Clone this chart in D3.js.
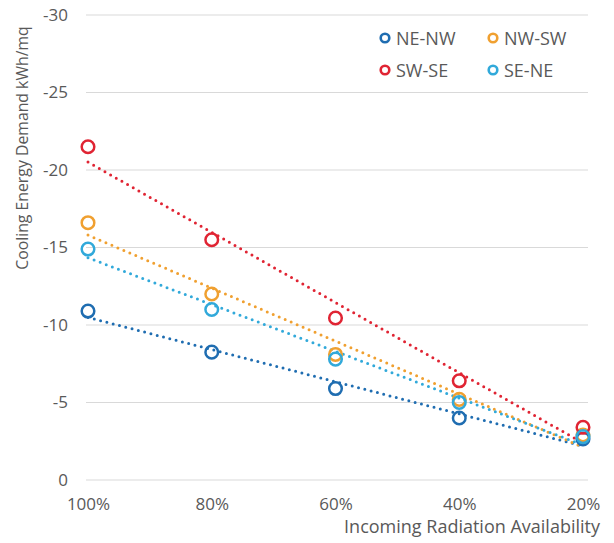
<!DOCTYPE html>
<html><head><meta charset="utf-8">
<script src="https://cdn.jsdelivr.net/npm/d3@7"></script>
<style>
body{margin:0;background:#fff;}
text{font-family:"Open Sans","Noto Sans",sans-serif;fill:#595959;}
</style></head>
<body><svg id="c" width="614" height="543"></svg>
<script>
const categories = ["100%","80%","60%","40%","20%"];
const seriesNames = ["NE-NW","NW-SW","SW-SE","SE-NE"];
const neNw = [-10.9,-8.25,-5.9,-4.0,-2.65];
const nwSw = [-16.6,-12.0,-8.1,-5.2,-2.9];
const swSe = [-21.5,-15.5,-10.45,-6.4,-3.4];
const seNe = [-14.9,-11.0,-7.8,-5.0,-2.8];
const yTicks = [0,-5,-10,-15,-20,-25,-30];
const colors = ["#1F6DB1","#F0A030","#E02433","#31A9DA"];

const series = [neNw,nwSw,swSe,seNe].map((v,i)=>({name:seriesNames[i],values:v,color:colors[i]}));

const svg = d3.select("#c");
const x = d3.scalePoint().domain(categories).range([88,583]);
const y = d3.scaleLinear().domain([0,-30]).range([480,15]);
const FONT = "Open Sans, Noto Sans, sans-serif";

// gridlines
svg.append("g").selectAll("line").data(yTicks).join("line")
  .attr("x1",86).attr("x2",588).attr("y1",d=>y(d)).attr("y2",d=>y(d))
  .attr("stroke","#d9d9d9").attr("stroke-width",1.2);

// y axis labels
const ya = svg.append("g").attr("transform","translate(86,0)")
  .call(d3.axisLeft(y).tickValues(yTicks).tickSize(0).tickPadding(18).tickFormat(d=>String(d)));
ya.select(".domain").remove();
ya.selectAll("text").attr("font-size",17).attr("font-family",FONT).attr("fill","#595959");

// x axis labels
const xa = svg.append("g").attr("transform","translate(0,494)")
  .call(d3.axisBottom(x).tickSize(0).tickPadding(4));
xa.select(".domain").remove();
xa.selectAll("text").attr("font-size",17).attr("font-family",FONT).attr("fill","#595959");

// trendlines (least squares on index)
series.forEach(s=>{
  const n = s.values.length;
  const xs = d3.range(n);
  const mx = d3.mean(xs), my = d3.mean(s.values);
  const sxy = d3.sum(xs,(xi,i)=>(xi-mx)*(s.values[i]-my));
  const sxx = d3.sum(xs,xi=>(xi-mx)*(xi-mx));
  const b = sxy/sxx, a = my - b*mx;
  const xs2 = d3.scaleLinear().domain([0,n-1]).range([x(categories[0]),x(categories[n-1])]);
  svg.append("line")
    .attr("x1",xs2(0)).attr("y1",y(a))
    .attr("x2",xs2(n-1)).attr("y2",y(a+b*(n-1)))
    .attr("stroke",s.color).attr("stroke-width",3)
    .attr("stroke-linecap","round").attr("stroke-dasharray","0,6.5");
});

// markers
series.forEach(s=>{
  svg.append("g").selectAll("circle").data(s.values).join("circle")
    .attr("cx",(d,i)=>x(categories[i])).attr("cy",d=>y(d)).attr("r",6.3)
    .attr("fill","none").attr("stroke",s.color).attr("stroke-width",2.5);
});

// legend
const legPos = [[385,38],[493,38],[385,70],[493,70]];
series.forEach((s,i)=>{
  const g = svg.append("g").attr("transform",`translate(${legPos[i][0]},${legPos[i][1]})`);
  g.append("circle").attr("r",4.3).attr("fill","none").attr("stroke",s.color).attr("stroke-width",2.6);
  g.append("text").attr("x",11).attr("y",6.5).attr("font-size",18).text(s.name);
});

// axis titles
svg.append("text").attr("transform","translate(28,148) rotate(-90)")
  .attr("text-anchor","middle").attr("font-size",15.8).text("Cooling Energy Demand kWh/mq");
svg.append("text").attr("x",600).attr("y",533).attr("text-anchor","end")
  .attr("font-size",18).text("Incoming Radiation Availability");
</script></body></html>
